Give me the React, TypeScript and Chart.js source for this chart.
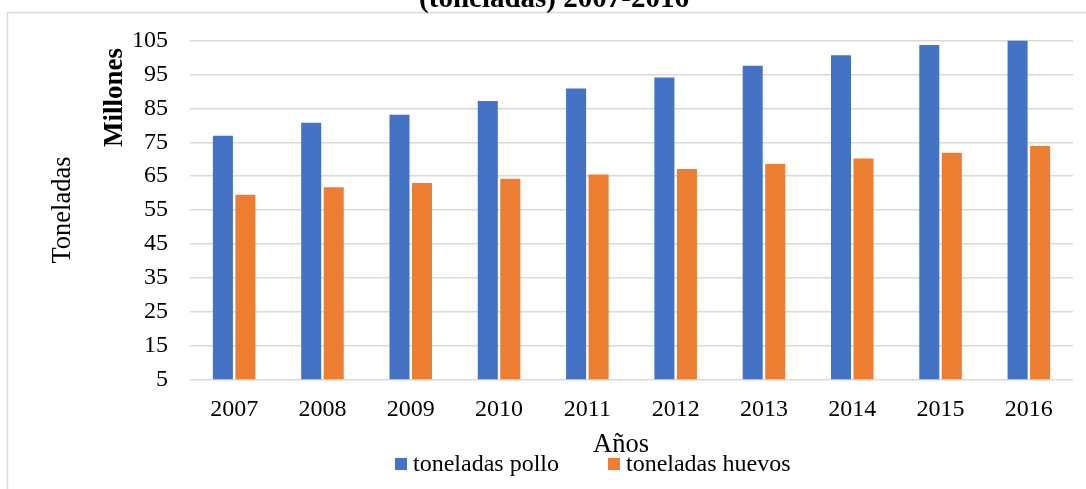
import { useEffect, useRef } from "react";
import { Chart, registerables } from "chart.js";

Chart.register(...registerables);

const years = ["2007", "2008", "2009", "2010", "2011", "2012", "2013", "2014", "2015", "2016"];
const polloMillones = [76.9, 80.8, 83.1, 87.2, 90.9, 94.1, 97.6, 100.7, 103.7, 105.2];
const huevosMillones = [59.5, 61.7, 63.0, 64.2, 65.5, 67.1, 68.6, 70.2, 71.9, 73.9];
const yTickValues = [5, 15, 25, 35, 45, 55, 65, 75, 85, 95, 105];
const seriesNames = ["toneladas pollo", "toneladas huevos"];
const seriesColors = ["#4472C4", "#ED7D31"];
const titleText = "(toneladas) 2007-2016";
const yAxisTitle = "Toneladas";
const unitsLabel = "Millones";
const xAxisTitle = "Años";

const FONT = "'Liberation Serif', 'Times New Roman', serif";

const extrasPlugin = {
  id: "extras",
  beforeDraw(chart: any) {
    const ctx = chart.ctx;
    ctx.save();
    ctx.fillStyle = "#ffffff";
    ctx.fillRect(0, 0, chart.width, chart.height);
    ctx.strokeStyle = "#d9d9d9";
    ctx.lineWidth = 1.5;
    ctx.strokeRect(7.5, 12.5, 3000, 3000);
    ctx.restore();
  },
  afterDraw(chart: any) {
    const ctx = chart.ctx;
    const area = chart.chartArea;
    ctx.save();
    ctx.fillStyle = "#000000";

    // Title (partially cut off at top)
    ctx.font = `bold 29px ${FONT}`;
    ctx.textAlign = "center";
    ctx.textBaseline = "alphabetic";
    ctx.fillText(titleText, 554, 7);

    // Units label
    ctx.save();
    ctx.translate(122, 97.5);
    ctx.rotate(-Math.PI / 2);
    ctx.font = `bold 27px ${FONT}`;
    ctx.textAlign = "center";
    ctx.fillText(unitsLabel, 0, 0);
    ctx.restore();

    // Y axis title
    ctx.save();
    ctx.translate(70, (area.top + area.bottom) / 2);
    ctx.rotate(-Math.PI / 2);
    ctx.font = `26.5px ${FONT}`;
    ctx.textAlign = "center";
    ctx.fillText(yAxisTitle, 0, 0);
    ctx.restore();

    // X axis title
    ctx.font = `26.5px ${FONT}`;
    ctx.textAlign = "center";
    ctx.fillText(xAxisTitle, 621, 452);

    // Legend
    ctx.font = `24px ${FONT}`;
    ctx.textAlign = "left";
    let x = 395;
    chart.data.datasets.forEach((ds: any) => {
      ctx.fillStyle = ds.backgroundColor;
      ctx.fillRect(x, 458, 12, 12);
      ctx.fillStyle = "#000000";
      ctx.fillText(ds.label, x + 18, 471);
      x += 18 + ctx.measureText(ds.label).width + 49;
    });
    ctx.restore();
  },
};

export default function App() {
  const canvasRef = useRef<HTMLCanvasElement | null>(null);

  useEffect(() => {
    document.body.style.margin = "0";
    const canvas = canvasRef.current;
    if (!canvas) return;
    const chart = new Chart(canvas, {
      type: "bar",
      data: {
        labels: years,
        datasets: [
          {
            label: seriesNames[0],
            data: polloMillones,
            backgroundColor: seriesColors[0],
            borderWidth: 0,
          },
          {
            label: seriesNames[1],
            data: huevosMillones,
            backgroundColor: seriesColors[1],
            borderWidth: 0,
          },
        ],
      },
      options: {
        animation: false,
        responsive: false,
        devicePixelRatio: 1,
        datasets: {
          bar: {
            categoryPercentage: 0.51,
            barPercentage: 0.89,
          },
        },
        layout: {
          padding: { top: 40.7, right: 13, left: 0, bottom: 0 },
        },
        plugins: {
          legend: { display: false },
          title: { display: false },
          tooltip: { enabled: false },
        },
        scales: {
          x: {
            grid: { display: false, drawTicks: false },
            border: { display: false },
            ticks: {
              color: "#000000",
              font: { family: FONT, size: 24 },
              padding: 16,
              maxRotation: 0,
            },
            afterFit(scale: any) {
              scale.height = 109.7;
            },
          },
          y: {
            min: 5,
            max: 105,
            grid: { color: "#d9d9d9", lineWidth: 1.5, drawTicks: false },
            border: { display: false },
            ticks: {
              color: "#000000",
              font: { family: FONT, size: 24 },
              padding: 22,
            },
            afterBuildTicks(scale: any) {
              scale.ticks = yTickValues.map((v) => ({ value: v }));
            },
            afterFit(scale: any) {
              scale.width = 190;
            },
          },
        },
      },
      plugins: [extrasPlugin],
    });
    return () => chart.destroy();
  }, []);

  return (
    <canvas
      ref={canvasRef}
      width={1086}
      height={489}
      style={{ display: "block", width: "1086px", height: "489px" }}
    />
  );
}
